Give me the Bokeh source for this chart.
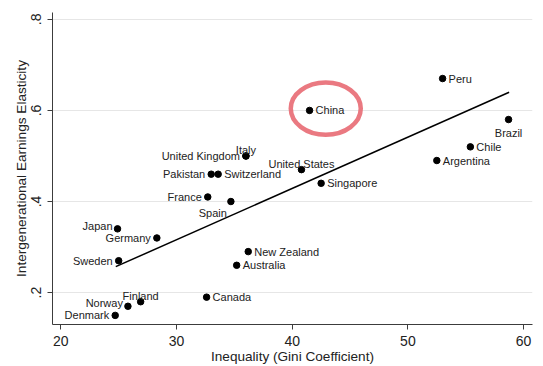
from bokeh.plotting import figure
from bokeh.models import Range1d, FixedTicker, CustomJSTickFormatter, ColumnDataSource
from bokeh.core.properties import value
from bokeh.embed import file_html
from bokeh.resources import INLINE

# ---- data ----
countries = ["Denmark", "Norway", "Finland", "Sweden", "Germany", "Japan", "Canada",
             "Australia", "New Zealand", "France", "Spain", "Pakistan", "Switzerland",
             "United Kingdom", "Italy", "United States", "Singapore", "China",
             "Argentina", "Chile", "Brazil", "Peru"]
gini = [24.7, 25.8, 26.9, 25.0, 28.3, 24.9, 32.6,
        35.2, 36.2, 32.7, 34.7, 33.0, 33.6,
        36.0, 36.0, 40.8, 42.5, 41.5,
        52.5, 55.4, 58.7, 53.0]
elasticity = [0.15, 0.17, 0.18, 0.27, 0.32, 0.34, 0.19,
              0.26, 0.29, 0.41, 0.40, 0.46, 0.46,
              0.50, 0.50, 0.47, 0.44, 0.60,
              0.49, 0.52, 0.58, 0.67]
# label clock positions (Stata-style mlabvposition)
label_clock = [9, 11, 12, 9, 9, 11, 3,
               3, 3, 9, 7, 9, 3,
               9, 12, 12, 3, 3,
               3, 3, 6, 3]

fit_x = [24.75, 58.75]
fit_y = [0.257, 0.640]

x_ticks = [20, 30, 40, 50, 60]
y_ticks = [0.2, 0.4, 0.6, 0.8]

# hand-drawn highlight around China
highlight_x = [42.9]
highlight_y = [0.604]
highlight_w = [6.05]
highlight_h = [0.115]

# ---- label placement styles ----
placement = {
    3: (6, 0, "left", "middle"),
    9: (-6, 0, "right", "middle"),
    12: (0, -6, "center", "alphabetic"),
    6: (0, 7, "center", "top"),
    7: (-4, 5, "right", "top"),
    11: (-5, -3, "right", "alphabetic"),
}
xo, yo, al, bl = [], [], [], []
for c in label_clock:
    a, b, c_al, c_bl = placement[c]
    xo.append(a); yo.append(b); al.append(c_al); bl.append(c_bl)

src = ColumnDataSource(dict(x=gini, y=elasticity, name=countries,
                            xo=xo, yo=yo, al=al, bl=bl))

FONT = "Liberation Sans"

p = figure(width=543, height=366, output_backend="svg", toolbar_location=None,
           x_range=Range1d(19.28, 60.77), y_range=Range1d(0.130, 0.815),
           min_border_left=52, min_border_right=11, min_border_top=12, min_border_bottom=40)
p.outline_line_color = None
p.background_fill_color = "white"
p.border_fill_color = "white"

p.xgrid.visible = False
p.ygrid.grid_line_color = "#e6e6e6"
p.ygrid.grid_line_width = 1

p.xaxis.ticker = FixedTicker(ticks=x_ticks)
p.yaxis.ticker = FixedTicker(ticks=y_ticks)
p.yaxis.formatter = CustomJSTickFormatter(code="return tick.toFixed(1).replace(/^0/, '')")
p.yaxis.major_label_orientation = "vertical"

for ax in (p.xaxis[0], p.yaxis[0]):
    ax.axis_line_color = "#3c3c3c"
    ax.major_tick_line_color = "#3c3c3c"
    ax.major_tick_out = 5
    ax.major_tick_in = 0
    ax.minor_tick_line_color = None
    ax.major_label_text_font = FONT
    ax.major_label_text_font_size = "14px"
    ax.major_label_text_color = "#222222"
    ax.major_label_standoff = 6
    ax.axis_label_text_font = FONT
    ax.axis_label_text_font_size = "13.6px"
    ax.axis_label_text_font_style = "normal"
    ax.axis_label_text_color = "#222222"
    ax.axis_label_standoff = 0

p.xaxis.axis_label = "Inequality (Gini Coefficient)"
p.yaxis.axis_label = "Intergenerational Earnings Elasticity"

p.line(fit_x, fit_y, line_color="black", line_width=1.5)
p.scatter("x", "y", source=src, size=6.5, color="black")
p.text("x", "y", text="name", source=src, x_offset="xo", y_offset="yo",
       text_align="al", text_baseline="bl", text_font=value(FONT),
       text_font_size="11px", text_color="#222222")

p.ellipse(highlight_x, highlight_y, width=highlight_w, height=highlight_h,
          fill_alpha=0, line_color="#e86a73", line_width=4.5, line_alpha=0.9)

open("out.html", "w").write(file_html(p, INLINE))
